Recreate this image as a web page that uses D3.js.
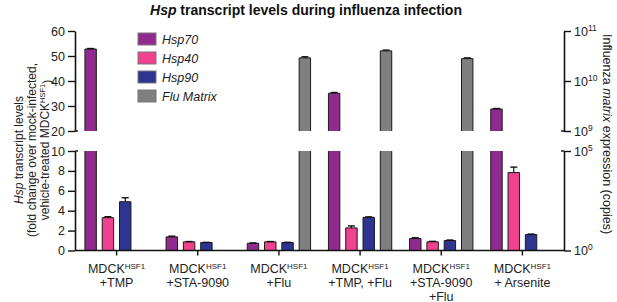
<!DOCTYPE html>
<html><head><meta charset="utf-8">
<script src="https://cdn.jsdelivr.net/npm/d3@7"></script>
<style>body{margin:0;background:#fff}svg{display:block;font-family:"Liberation Sans",Arial,sans-serif}</style>
</head><body>
<script>
const categories = ["TMP", "STA-9090", "Flu", "TMP, Flu", "STA-9090, Flu", "Arsenite"];
const categoryLines = [["+TMP"], ["+STA-9090"], ["+Flu"], ["+TMP, +Flu"], ["+STA-9090", "+Flu"], ["+ Arsenite"]];
const series = ["Hsp70", "Hsp40", "Hsp90", "Flu Matrix"];
const colors = ["#902a8e", "#f0428f", "#2d3590", "#7f7f7f"];
const hsp70 = [52.8, 1.37, 0.73, 35.1, 1.2, 28.8];
const hsp70Err = [0.2, 0.07, 0.03, 0.3, 0.08, 0.2];
const hsp40 = [3.3, 0.87, 0.87, 2.27, 0.87, 7.83];
const hsp40Err = [0.1, 0.03, 0.03, 0.2, 0.05, 0.55];
const hsp90 = [4.9, 0.8, 0.8, 3.33, 1.0, 1.6];
const hsp90Err = [0.4, 0.02, 0.02, 0.05, 0.05, 0.05];
const fluMatrix = [null, null, 2.9e10, 4.0e10, 2.8e10, null];
const fluMatrixErr = [null, null, 0.15e10, 0.15e10, 0.1e10, null];
const leftTopTicks = [20, 30, 40, 50, 60];
const leftBotTicks = [0, 2, 4, 6, 8, 10];
const rightTopTicks = [1e9, 1e10, 1e11];
const rightBotTicks = [1, 1e5];

const W = 617, H = 302;
const xL = 75, xR = 564, base = 250.5;
const svg = d3.select("body").append("svg").attr("width", W).attr("height", H);

// scales
const yTopL = d3.scaleLinear().domain([20, 60]).range([131, 31]);
const yBotL = d3.scaleLinear().domain([0, 10]).range([base, 151]);
const yTopR = d3.scaleLog().domain([1e9, 1e11]).range([131, 31]);
const yBotR = d3.scaleLog().domain([1, 1e5]).range([base, 151]);
const x0 = d3.scaleBand().domain(categories).range([76, 563]);
const half = 34.6;
const x1 = d3.scaleBand().domain(series).range([-half, half]).paddingInner(0.34).paddingOuter(0.17);

// title
const title = svg.append("text").attr("x", 306).attr("y", 15).attr("text-anchor", "middle")
  .attr("font-size", "14px").attr("font-weight", "bold").attr("fill", "#111");
title.append("tspan").attr("font-style", "italic").text("Hsp");
title.append("tspan").text(" transcript levels during influenza infection");

// bars
const values = [hsp70, hsp40, hsp90, fluMatrix];
const errs = [hsp70Err, hsp40Err, hsp90Err, fluMatrixErr];
const gBars = svg.append("g");
function outlineSide(x, w, yTop, yBot, closedTop) {
  const p = d3.path();
  p.moveTo(x, yBot); p.lineTo(x, yTop);
  if (closedTop) { p.lineTo(x + w, yTop); } else { p.moveTo(x + w, yTop); }
  p.lineTo(x + w, yBot);
  return p.toString();
}
function errBar(cx, y0, y1) {
  gBars.append("line").attr("x1", cx).attr("x2", cx).attr("y1", y0).attr("y2", y1)
    .attr("stroke", "#111").attr("stroke-width", 1.2);
  gBars.append("line").attr("x1", cx - 3.5).attr("x2", cx + 3.5).attr("y1", y1).attr("y2", y1)
    .attr("stroke", "#111").attr("stroke-width", 1.4);
}
series.forEach((s, si) => {
  const isFlu = si === 3;
  const yB = isFlu ? yBotR : yBotL, yT = isFlu ? yTopR : yTopL;
  const botMax = isFlu ? 1e5 : 10, topMin = isFlu ? 1e9 : 20;
  categories.forEach((c, ci) => {
    const v = values[si][ci];
    if (v == null) return;
    const e = errs[si][ci];
    const x = x0(c) + x0.bandwidth() / 2 + x1(s), w = x1.bandwidth(), cx = x + w / 2;
    const clipped = v > botMax;
    const yb = yB(Math.min(v, botMax));
    gBars.append("rect").attr("x", x).attr("y", yb).attr("width", w).attr("height", base - yb)
      .attr("fill", colors[si]);
    gBars.append("path").attr("d", outlineSide(x, w, yb, base, !clipped))
      .attr("fill", "none").attr("stroke", "#1a1a1a").attr("stroke-width", 1);
    if (!clipped) { errBar(cx, yb, yB(v + e)); }
    if (v >= topMin) {
      const yt = yT(v);
      gBars.append("rect").attr("x", x).attr("y", yt).attr("width", w).attr("height", 131 - yt)
        .attr("fill", colors[si]);
      gBars.append("path").attr("d", outlineSide(x, w, yt, 131, true))
        .attr("fill", "none").attr("stroke", "#1a1a1a").attr("stroke-width", 1);
      errBar(cx, yt, yT(v + e));
    }
  });
});

// axes
function styleAxis(g) {
  g.selectAll("path.domain").attr("stroke", "#111").attr("stroke-width", 1.6);
  g.selectAll(".tick line").attr("stroke", "#111").attr("stroke-width", 1.4);
  g.selectAll(".tick text").attr("font-size", "12.5px").attr("fill", "#222")
    .attr("font-family", "'Liberation Sans',Arial,sans-serif");
}
const aLT = svg.append("g").attr("transform", `translate(${xL},0)`)
  .call(d3.axisLeft(yTopL).tickValues(leftTopTicks).tickSize(7).tickSizeOuter(0).tickPadding(3));
const aLB = svg.append("g").attr("transform", `translate(${xL},0)`)
  .call(d3.axisLeft(yBotL).tickValues(leftBotTicks).tickSize(7).tickSizeOuter(0).tickPadding(3));
const supFmt = (g) => {
  g.selectAll(".tick text").each(function(d) {
    const t = d3.select(this); t.text("");
    t.append("tspan").text("10");
    t.append("tspan").attr("dy", "-0.55em").attr("font-size", "8.5px").text(Math.round(Math.log10(d)));
  });
};
const aRT = svg.append("g").attr("transform", `translate(${xR},0)`)
  .call(d3.axisRight(yTopR).tickValues(rightTopTicks).tickSize(7).tickSizeOuter(0).tickPadding(3));
const aRB = svg.append("g").attr("transform", `translate(${xR},0)`)
  .call(d3.axisRight(yBotR).tickValues(rightBotTicks).tickSize(7).tickSizeOuter(0).tickPadding(3));
[aLT, aLB, aRT, aRB].forEach(styleAxis);
[aRT, aRB].forEach(supFmt);
// break caps
[[xL, 131, 3], [xL, 151, 3], [xR, 131, -3], [xR, 151, -3]].forEach(([x, y, d]) => {
  svg.append("line").attr("x1", x).attr("x2", x + d).attr("y1", y).attr("y2", y)
    .attr("stroke", "#111").attr("stroke-width", 1.4);
});

// x axis
const gx = svg.append("g");
gx.append("line").attr("x1", xL).attr("x2", xR).attr("y1", base).attr("y2", base)
  .attr("stroke", "#111").attr("stroke-width", 1.6);
categories.forEach((c, ci) => {
  const cx = x0(c) + x0.bandwidth() / 2;
  gx.append("line").attr("x1", cx).attr("x2", cx).attr("y1", base).attr("y2", base + 5)
    .attr("stroke", "#111").attr("stroke-width", 1.4);
  const t = gx.append("text").attr("x", cx).attr("y", 273).attr("text-anchor", "middle")
    .attr("font-size", "12.5px").attr("fill", "#222");
  t.append("tspan").attr("x", cx).text("MDCK");
  t.append("tspan").attr("dy", "-0.5em").attr("font-size", "8px").text("HSF1");
  categoryLines[ci].forEach((line, li) => {
    t.append("tspan").attr("x", cx).attr("y", 287 + li * 13.5).text(line);
  });
});

// legend
const leg = svg.append("g");
series.forEach((s, i) => {
  const y = 39 + i * 19;
  leg.append("rect").attr("x", 138).attr("y", y - 6).attr("width", 18).attr("height", 12)
    .attr("fill", colors[i]).attr("stroke", "#777").attr("stroke-width", 1);
  leg.append("text").attr("x", 162).attr("y", y).attr("dy", "0.36em").attr("font-size", "12.5px")
    .attr("font-style", "italic").attr("fill", "#222").text(s);
});

// left y title
const lt = svg.append("text").attr("transform", "translate(0,150) rotate(-90)")
  .attr("text-anchor", "middle").attr("font-size", "12px").attr("fill", "#222");
const l1 = lt.append("tspan").attr("x", 0).attr("y", 23);
l1.append("tspan").attr("font-style", "italic").text("Hsp");
l1.append("tspan").text(" transcript levels");
lt.append("tspan").attr("x", 0).attr("y", 36).text("(fold change over mock-infected,");
lt.append("tspan").attr("x", 0).attr("y", 49).text("vehicle-treated MDCK");
lt.append("tspan").attr("dy", "-0.5em").attr("font-size", "7.5px").text("HSF1");
lt.append("tspan").attr("dy", "0.5em").text(")");

// right y title
const rt = svg.append("text").attr("transform", "translate(603,134) rotate(90)")
  .attr("text-anchor", "middle").attr("font-size", "12.5px").attr("fill", "#222");
rt.append("tspan").text("Influenza ");
rt.append("tspan").attr("font-style", "italic").text("matrix");
rt.append("tspan").text(" expression (copies)");
</script>
</body></html>
